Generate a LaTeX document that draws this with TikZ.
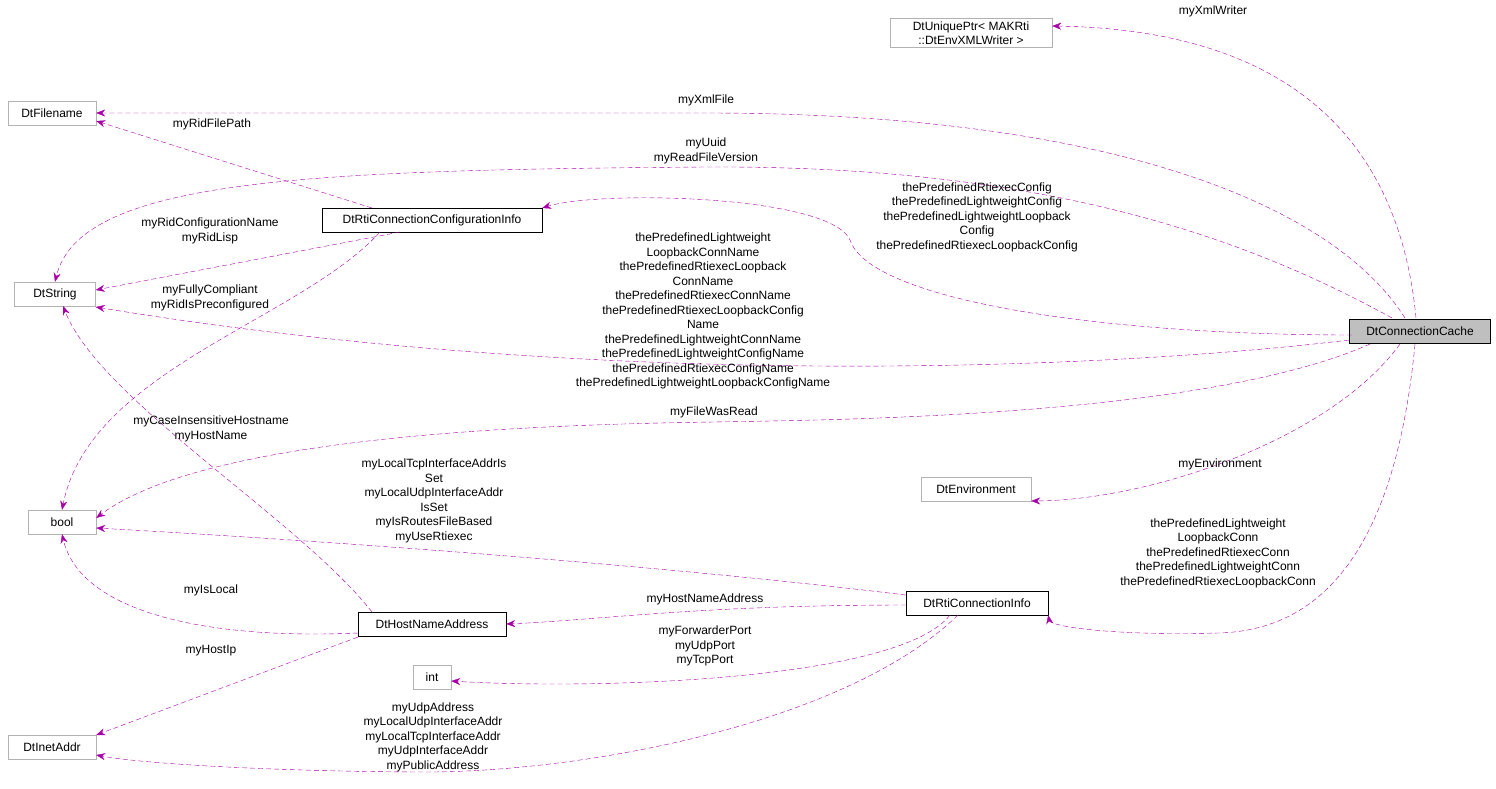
\documentclass[tikz,border=0pt]{standalone}
\usepackage{fontspec}
\setmainfont{Liberation Sans}
\usetikzlibrary{arrows.meta,positioning}
\tikzset{
  cls/.style={draw=black,fill=white,inner sep=3pt,minimum height=24pt,font=\fontsize{12}{14}\selectfont},
  ext/.style={cls,draw=gray!60},
  lbl/.style={align=center,inner sep=0pt,font=\fontsize{12}{14.5}\selectfont},
  edge/.style={draw=violet!70!magenta,dashed,dash pattern=on 5pt off 3pt,-{Stealth[length=9pt,width=7pt]}}
}
\begin{document}
\begin{tikzpicture}[x=1pt,y=-1pt]
\useasboundingbox (0,0) rectangle (1496,788);
% classes
\node[cls,fill=gray!50,minimum width=141pt] (cache) at (1420,331) {DtConnectionCache};
\node[ext,align=center,minimum width=162pt,font=\fontsize{12}{14}\selectfont] (uptr) at (971,33) {DtUniquePtr< MAKRti\\::DtEnvXMLWriter >};
\node[ext,minimum width=88pt] (fname) at (52,113) {DtFilename};
\node[cls,minimum width=220pt] (cfg) at (432,220) {DtRtiConnectionConfigurationInfo};
\node[ext,minimum width=81pt] (str) at (55,294) {DtString};
\node[ext,minimum width=68pt] (bool) at (62,522) {bool};
\node[ext,minimum width=110pt] (env) at (976,489) {DtEnvironment};
\node[cls,minimum width=142pt] (info) at (977,603) {DtRtiConnectionInfo};
\node[cls,minimum width=148pt] (host) at (432,624) {DtHostNameAddress};
\node[ext,minimum width=38pt] (int) at (432,677) {int};
\node[ext,minimum width=88pt] (inet) at (52,747) {DtInetAddr};
% connectors
\draw[edge] (1416,318) .. controls (1400,150) and (1300,30) .. (uptr.east |- 0,26);
\draw[edge] (1405,318) .. controls (1330,200) and (1100,113) .. (706,113) .. controls (400,113) and (200,113) .. (fname.east);
\draw[edge] (372,208) -- (fname.east |- 0,121);
\draw[edge] (1392,318) .. controls (1250,240) and (1050,165) .. (706,167) .. controls (300,170) and (80,180) .. (str.north);
\draw[edge] (1352,335) .. controls (1100,335) and (870,300) .. (850,240) .. controls (830,195) and (600,190) .. (cfg.north east |- 0,208);
\draw[edge] (400,232) -- (str.east |- 0,290);
\draw[edge] (380,232) .. controls (300,320) and (90,370) .. (bool.north);
\draw[edge] (cache.west |- 0,340) .. controls (1100,370) and (600,390) .. (str.east |- 0,307);
\draw[edge] (1370,344) .. controls (1200,420) and (800,420) .. (714,422) .. controls (500,425) and (200,440) .. (bool.east |- 0,518);
\draw[edge] (1400,344) .. controls (1330,440) and (1150,500) .. (env.east |- 0,501);
\draw[edge] (1415,344) .. controls (1400,500) and (1350,630) .. (1218,633) .. controls (1100,636) and (1050,625) .. (info.east |- 0,615);
\draw[edge] (info.west |- 0,595) .. controls (700,570) and (400,545) .. (bool.east |- 0,528);
\draw[edge] (372,612) .. controls (300,520) and (100,400) .. (63,306);
\draw[edge] (host.west |- 0,633) .. controls (200,640) and (80,610) .. (bool.south);
\draw[edge] (info.west |- 0,605) .. controls (700,605) and (600,620) .. (host.east);
\draw[edge] (358,637) -- (inet.east |- 0,735);
\draw[edge] (950,615) .. controls (900,680) and (600,690) .. (int.east |- 0,681);
\draw[edge] (958,615) .. controls (850,720) and (600,770) .. (433,772) .. controls (300,772) and (150,765) .. (inet.east |- 0,755);
% labels
\node[lbl] (l1) at (1213,11) {myXmlWriter};
\node[lbl] (l2) at (706,100) {myXmlFile};
\node[lbl] (l3) at (212,124) {myRidFilePath};
\node[lbl] (l4) at (706,151) {myUuid\\myReadFileVersion};
\node[lbl] (l5) at (977,217) {thePredefinedRtiexecConfig\\thePredefinedLightweightConfig\\thePredefinedLightweightLoopback\\Config\\thePredefinedRtiexecLoopbackConfig};
\node[lbl] (l6) at (210,231) {myRidConfigurationName\\myRidLisp};
\node[lbl] (l7) at (210,298) {myFullyCompliant\\myRidIsPreconfigured};
\node[lbl] (l8) at (703,311) {thePredefinedLightweight\\LoopbackConnName\\thePredefinedRtiexecLoopback\\ConnName\\thePredefinedRtiexecConnName\\thePredefinedRtiexecLoopbackConfig\\Name\\thePredefinedLightweightConnName\\thePredefinedLightweightConfigName\\thePredefinedRtiexecConfigName\\thePredefinedLightweightLoopbackConfigName};
\node[lbl] (l9) at (714,412) {myFileWasRead};
\node[lbl] (l10) at (1220,464) {myEnvironment};
\node[lbl] (l11) at (1218,553) {thePredefinedLightweight\\LoopbackConn\\thePredefinedRtiexecConn\\thePredefinedLightweightConn\\thePredefinedRtiexecLoopbackConn};
\node[lbl] (l12) at (434,501) {myLocalTcpInterfaceAddrIs\\Set\\myLocalUdpInterfaceAddr\\IsSet\\myIsRoutesFileBased\\myUseRtiexec};
\node[lbl] (l13) at (211,429) {myCaseInsensitiveHostname\\myHostName};
\node[lbl] (l14) at (211,590) {myIsLocal};
\node[lbl] (l15) at (705,599) {myHostNameAddress};
\node[lbl] (l16) at (211,651) {myHostIp};
\node[lbl] (l17) at (705,646) {myForwarderPort\\myUdpPort\\myTcpPort};
\node[lbl] (l18) at (433,737) {myUdpAddress\\myLocalUdpInterfaceAddr\\myLocalTcpInterfaceAddr\\myUdpInterfaceAddr\\myPublicAddress};
\end{tikzpicture}
\end{document}
